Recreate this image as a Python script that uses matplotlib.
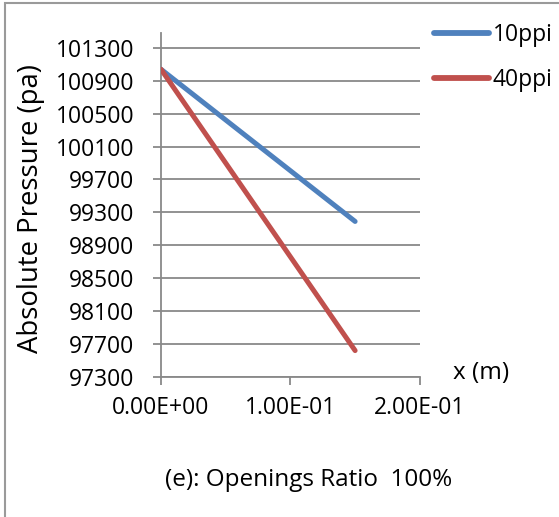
import matplotlib.pyplot as plt
from matplotlib.patches import Rectangle

# Data
x_vals = [0.0, 0.15]
p_10ppi = [101040, 99190]
p_40ppi = [101040, 97620]
series_names = ['10ppi', '40ppi']
series_colors = ['#4F81BD', '#C0504D']
y_ticks = [97300, 97700, 98100, 98500, 98900, 99300, 99700, 100100, 100500, 100900, 101300]
x_ticks = [0.0, 0.1, 0.2]
x_tick_labels = ['0.00E+00', '1.00E-01', '2.00E-01']

plt.rcParams['font.family'] = ['Open Sans', 'DejaVu Sans']

fig = plt.figure(figsize=(5.59, 5.17), dpi=100)
ax = fig.add_axes([0.288, 0.271, 0.463, 0.665])

grid_c = '#898989'
for yv in y_ticks:
    ax.axhline(yv, color=grid_c, lw=1.3, zorder=1)

for ys, name, col in zip([p_10ppi, p_40ppi], series_names, series_colors):
    ax.plot(x_vals, ys, color=col, lw=3.6, solid_capstyle='round', label=name, zorder=3)

ax.set_xlim(0, 0.2)
ax.set_ylim(97300, 101480)
ax.set_yticks(y_ticks)
ax.set_yticklabels([str(v) for v in y_ticks])
ax.set_xticks(x_ticks)
ax.set_xticklabels(x_tick_labels)
ax.tick_params(axis='both', labelsize=16.5, colors=grid_c, labelcolor='black',
               length=6, width=1.3, direction='out')
ax.tick_params(axis='x', pad=8)
ax.tick_params(axis='y', pad=13)

for s in ['top', 'right']:
    ax.spines[s].set_visible(False)
for s in ['left', 'bottom']:
    ax.spines[s].set_color(grid_c)
    ax.spines[s].set_linewidth(1.3)

ax.set_ylabel('Absolute Pressure (pa)', fontsize=19.8)
ax.yaxis.set_label_coords(-0.45, 0.49)
fig.text(453 / 559, 1 - 373 / 517, 'x (m)', fontsize=17.5, ha='left', va='center')
fig.text(309 / 559, 1 - 480 / 517, '(e): Openings Ratio  100%', fontsize=17.5,
         ha='center', va='center')

leg = ax.legend(loc='upper left', bbox_to_anchor=(434 / 559, 1 - 23 / 517),
                bbox_transform=fig.transFigure, frameon=False,
                fontsize=16.5, handlelength=2.4, handletextpad=0.15,
                labelspacing=0.9, borderpad=0, borderaxespad=0)
for h in leg.get_lines():
    h.set_linewidth(4.2)

fig.patches.append(Rectangle((5 / 559, -0.1), 1.2, 1 - 3 / 517 + 0.1,
                             transform=fig.transFigure, fill=False,
                             edgecolor='#9a9a9a', lw=1.5))

fig.savefig('out.png', dpi=100)
